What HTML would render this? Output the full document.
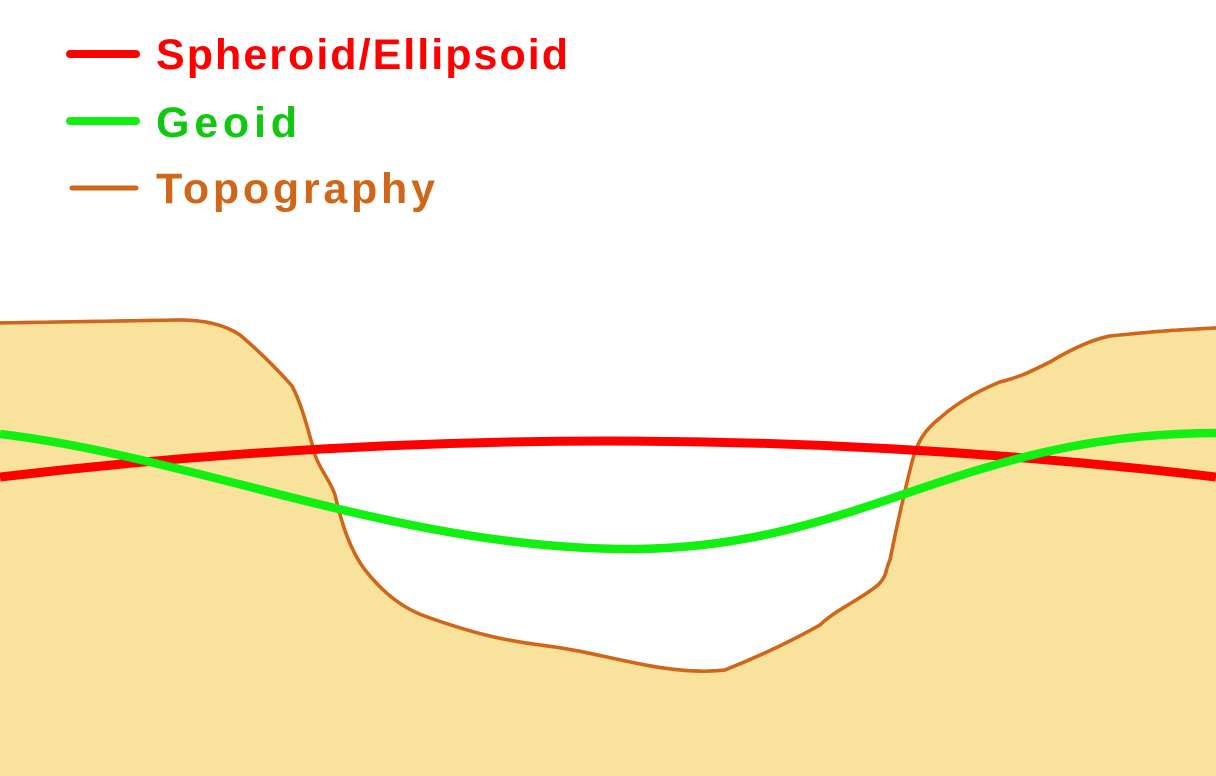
<!DOCTYPE html>
<html><head><style>
html,body{margin:0;padding:0;background:#fff;}
svg{display:block;}
</style></head><body>
<svg width="1216" height="776" viewBox="0 0 1216 776" xmlns="http://www.w3.org/2000/svg">
<path id="t" d="M0,323 L180,320 C205,320 225,325 240,335 C260,352 278,370 292,386 C302,405 308,430 315,455 C320,470 330,480 335,495 C342,525 350,550 365,570 C385,595 405,610 430,618 C470,632 500,640 540,645 C580,650 600,656 640,664 C670,670 700,673 725,670 C760,656 790,642 820,625 C835,610 860,600 878,585 C888,575 885,570 890,560 C898,520 905,490 912,462 C918,440 925,430 940,418 C960,400 985,388 1000,382 C1020,377 1030,372 1050,362 C1070,350 1090,340 1110,336 C1140,333 1170,330 1216,328" fill="none" stroke="#d0661a" stroke-width="3.5"/>
<path d="M0,323 L180,320 C205,320 225,325 240,335 C260,352 278,370 292,386 C302,405 308,430 315,455 C320,470 330,480 335,495 C342,525 350,550 365,570 C385,595 405,610 430,618 C470,632 500,640 540,645 C580,650 600,656 640,664 C670,670 700,673 725,670 C760,656 790,642 820,625 C835,610 860,600 878,585 C888,575 885,570 890,560 C898,520 905,490 912,462 C918,440 925,430 940,418 C960,400 985,388 1000,382 C1020,377 1030,372 1050,362 C1070,350 1090,340 1110,336 C1140,333 1170,330 1216,328 L1216,776 L0,776 Z" fill="#f9e29c"/>
<use href="#t"/>
<path d="M0,477 Q608,405 1216,477" fill="none" stroke="#ff0000" stroke-width="9"/>
<path d="M0,434 C200,458 400,549 630,549 C860,549 960,433 1216,433" fill="none" stroke="#11f011" stroke-width="8.5"/>
<line x1="70" y1="54" x2="136" y2="54" stroke="#ff0000" stroke-width="8" stroke-linecap="round"/>
<line x1="70" y1="121" x2="136" y2="121" stroke="#11f011" stroke-width="8" stroke-linecap="round"/>
<line x1="72" y1="188" x2="136" y2="188" stroke="#d0661a" stroke-width="5" stroke-linecap="round"/>
<g font-family="Liberation Sans, sans-serif" font-weight="bold" font-size="43">
<text x="156" y="69" fill="#ff0000" textLength="412">Spheroid/Ellipsoid</text>
<text x="156" y="137" fill="#11c811" textLength="141">Geoid</text>
<text x="156" y="203" fill="#d0661a" textLength="279">Topography</text>
</g>
</svg>
</body></html>
